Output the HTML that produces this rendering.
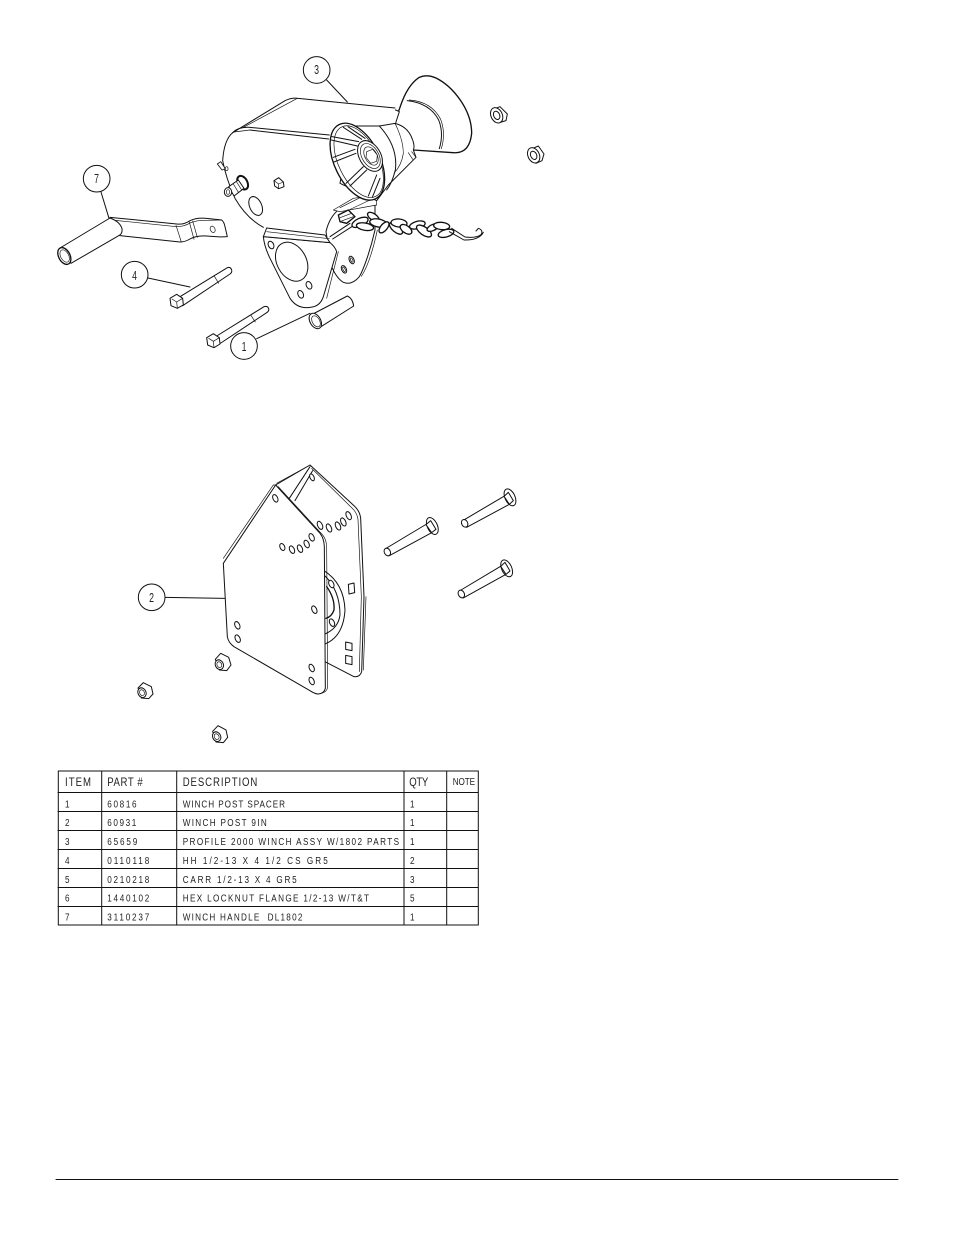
<!DOCTYPE html>
<html><head><meta charset="utf-8"><style>
html,body{margin:0;padding:0;background:#fff}
svg{display:block}
path,line,ellipse,circle,rect,polyline{fill:none;stroke:#111;stroke-linejoin:round;stroke-linecap:round}
.w path,.w ellipse,.w circle{fill:#fff}
.w .o{fill:none}
text{font-family:"Liberation Sans",sans-serif;fill:#222}
.t text{font-size:10.2px}
.t .h{font-size:12px}
.c{font-size:12.5px;text-anchor:middle}
</style></head><body>
<svg width="954" height="1235" viewBox="0 0 954 1235" xmlns="http://www.w3.org/2000/svg">

<!-- handle, bolts, balloons -->
<g transform="translate(40 40) scale(.33333)" class="w">
<path stroke-width="3" d="M210,532 L410,552 Q430,555 450,542 Q470,532 500,535 L545,540 Q552,545 555,560 L562,590 Q545,592 500,588 Q470,586 450,597 Q435,606 420,606 L240,587 Z"/>
<path class="o" stroke-width="2" d="M215,540 L410,560 Q432,560 452,548 Q472,540 500,541 L545,540"/>
<path class="o" stroke-width="2" d="M408,556 L424,606 M448,546 L462,598 M458,543 L472,592"/>
<ellipse stroke-width="2" cx="518" cy="568" rx="7" ry="10" transform="rotate(-25 518 568)"/>
<path stroke-width="3" d="M60,624 L210,534 Q240,545 246,566 Q248,580 238,586 L93,670 Z"/>
<ellipse stroke-width="4" cx="73" cy="648" rx="17" ry="27" transform="rotate(-28 73 648)"/>
<ellipse stroke-width="2" cx="74" cy="648" rx="12" ry="20" transform="rotate(-28 74 648)"/>
<circle stroke-width="3" cx="170" cy="416" r="40"/>
<line stroke-width="3" x1="183" y1="456" x2="207" y2="535"/>
<circle stroke-width="3" cx="284" cy="704" r="40"/>
<line stroke-width="3" x1="324" y1="714" x2="450" y2="741"/>
<path stroke-width="3" d="M420,770 L562,683 Q572,680 575,690 Q577,697 570,702 L428,797 Z"/>
<path class="o" stroke-width="2" d="M522,707 L536,730"/>
<path stroke-width="3" d="M390,775 L410,763 L428,775 L430,795 L412,805 L393,797 Z"/>
<path class="o" stroke-width="2" d="M396,777 L410,786 L412,805 M410,786 L428,775"/>
<path stroke-width="3" d="M530,888 L672,800 Q683,797 686,806 Q688,813 680,818 L538,912 Z"/>
<path class="o" stroke-width="2" d="M632,825 L646,846"/>
<path stroke-width="3" d="M500,893 L520,881 L538,893 L540,912 L522,923 L503,915 Z"/>
<path class="o" stroke-width="2" d="M506,895 L520,904 L522,923 M520,904 L538,893"/>
<circle stroke-width="3" cx="612" cy="918" r="40"/>
</g>

<!-- bell + rear flange -->
<g transform="translate(320 70) scale(.33333)" class="w">
<path stroke-width="4" d="M240,112 Q262,45 298,22 Q320,12 348,24 C400,50 455,120 455,190 C450,240 425,250 400,248 L280,240 L222,160 Z"/>
<path class="o" stroke-width="3" d="M262,92 Q330,100 356,150 Q372,190 358,236"/>
<path class="o" stroke-width="2" d="M268,90 Q335,95 362,148 Q378,190 364,236"/>
<path stroke-width="3" d="M130,165 L200,122 Q215,112 238,125 L225,165 Z"/>
<ellipse stroke-width="3" cx="192" cy="145" rx="5" ry="8" transform="rotate(25 192 145)"/>
</g>

<!-- housing -->
<g transform="translate(210 90) scale(.33333)" class="w">
<path style="stroke:none" d="M68,128 L225,32 Q245,22 265,25 L555,54 L560,250 L400,420 L160,412 Q110,385 75,325 Q45,260 38,210 Q40,150 68,128 Z"/>
<path class="o" stroke-width="3" d="M68,128 Q42,150 38,212 Q48,265 75,325 Q110,385 160,412"/>
<path class="o" stroke-width="3" d="M68,128 L225,32 Q245,22 265,25 L555,54"/>
<path class="o" stroke-width="3" d="M68,128 Q85,110 120,112 L358,135 M120,120 L356,147"/>
<path class="o" stroke-width="2" d="M100,112 L262,25 M72,126 L120,120"/>
<path stroke-width="2.5" d="M22,222 L32,215 L46,236 L36,240 Z"/>
<ellipse stroke-width="2" cx="50" cy="236" rx="4" ry="6"/>
<ellipse stroke-width="6" cx="98" cy="278" rx="14" ry="22" transform="rotate(-30 98 278)"/>
<path stroke-width="3" d="M56,290 L85,270 L102,295 L72,318 Z"/>
<ellipse stroke-width="3" cx="54" cy="306" rx="11" ry="13"/>
<ellipse stroke-width="2" cx="54" cy="306" rx="5" ry="7"/>
<path class="o" stroke-width="2" d="M70,282 L86,308 M80,276 L95,300"/>
<path stroke-width="3" d="M192,272 L206,263 L220,276 L222,290 L206,296 L194,288 Z"/>
<path class="o" stroke-width="2" d="M192,272 L206,282 L206,296 M206,282 L220,276"/>
<ellipse stroke-width="3" cx="137" cy="348" rx="18" ry="30" transform="rotate(-25 137 348)"/>
</g>

<!-- lower right plate, brackets -->
<g transform="translate(320 195) scale(.33333)" class="w">
<path stroke-width="3" d="M18,110 Q28,65 60,40 L165,10 L165,105 C150,170 130,225 118,245 Q95,272 70,262 Q50,250 35,215 Z"/>
<path class="o" stroke-width="2" d="M172,105 C158,170 140,220 124,244"/>
<path stroke-width="2" d="M40,45 L100,10 L170,0 L170,30 L60,50 Z"/>
<path class="o" stroke-width="2" d="M60,38 L120,8 M80,48 L150,15"/>
<ellipse stroke-width="3" cx="72" cy="223" rx="7" ry="12" transform="rotate(-25 72 223)"/>
<ellipse stroke-width="3" cx="95" cy="195" rx="7" ry="12" transform="rotate(-25 95 195)"/>
<ellipse stroke-width="2" cx="72" cy="223" rx="3" ry="7" transform="rotate(-25 72 223)"/>
<ellipse stroke-width="2" cx="95" cy="195" rx="3" ry="7" transform="rotate(-25 95 195)"/>
</g>

<!-- lower triangular plate + spacer + nuts -->
<g transform="translate(210 50) scale(.33333)" class="w">
<path stroke-width="3" d="M160,560 Q163,590 180,625 L240,745 Q262,778 300,772 Q330,770 340,740 L380,605 Q375,590 360,578 Z"/>
<path stroke-width="3" d="M170,534 L345,555 L360,578 L160,560 Z"/>
<path class="o" stroke-width="2" d="M170,545 L358,566"/>
<path class="o" stroke-width="2" d="M350,745 L385,605"/>
<ellipse stroke-width="3" cx="245" cy="635" rx="44" ry="62" transform="rotate(-28 245 635)"/>
<ellipse stroke-width="3" cx="183" cy="585" rx="8" ry="12" transform="rotate(-25 183 585)"/>
<ellipse stroke-width="3" cx="297" cy="706" rx="8" ry="12" transform="rotate(-25 297 706)"/>
<ellipse stroke-width="3" cx="272" cy="733" rx="8" ry="12" transform="rotate(-25 272 733)"/>
<path stroke-width="3" d="M303,795 L412,738 Q428,745 431,768 L333,830 Z"/>
<ellipse stroke-width="3" cx="316" cy="813" rx="16" ry="25" transform="rotate(-30 316 813)"/>
<ellipse stroke-width="2" cx="318" cy="814" rx="11" ry="18" transform="rotate(-30 318 814)"/>
<path stroke-width="3" d="M848,178 L870,170 L892,192 L888,212 L868,218 Z"/>
<ellipse stroke-width="3" cx="860" cy="196" rx="17" ry="24" transform="rotate(-25 860 196)"/>
<ellipse stroke-width="3" cx="860" cy="196" rx="9" ry="13" transform="rotate(-25 860 196)"/>
<path stroke-width="3" d="M962,298 L985,288 L1002,312 L996,332 L978,340 Z"/>
<ellipse stroke-width="3" cx="971" cy="316" rx="17" ry="24" transform="rotate(-25 971 316)"/>
<ellipse stroke-width="3" cx="971" cy="316" rx="9" ry="13" transform="rotate(-25 971 316)"/>
<line stroke-width="3" x1="350" y1="90" x2="412" y2="156"/>
<circle stroke-width="3" cx="320" cy="60" r="40"/>
<line stroke-width="3" x1="140" y1="866" x2="300" y2="790"/>
</g>

<!-- chain -->
<g transform="translate(320 195) scale(.33333)" class="w">
<path class="o" stroke-width="3" d="M30,125 L90,85 M38,132 L100,92"/>
<path stroke-width="4" d="M55,60 L85,45 L105,65 L80,85 L60,80 Z"/>
<path class="o" stroke-width="2" d="M60,68 L95,55 M65,78 L100,65"/>
<ellipse stroke-width="4" cx="160" cy="66" rx="20" ry="10" transform="rotate(35 160 66)"/>
<ellipse stroke-width="4" cx="120" cy="82" rx="26" ry="12" transform="rotate(-25 120 82)"/>
<ellipse stroke-width="4" cx="135" cy="95" rx="26" ry="11" transform="rotate(10 135 95)"/>
<ellipse stroke-width="4" cx="175" cy="84" rx="26" ry="12" transform="rotate(10 175 84)"/>
<ellipse stroke-width="4" cx="192" cy="97" rx="20" ry="10" transform="rotate(-50 192 97)"/>
<ellipse stroke-width="4" cx="228" cy="100" rx="24" ry="11" transform="rotate(40 228 100)"/>
<ellipse stroke-width="4" cx="237" cy="84" rx="24" ry="12" transform="rotate(5 237 84)"/>
<ellipse stroke-width="4" cx="258" cy="103" rx="20" ry="11" transform="rotate(35 258 103)"/>
<ellipse stroke-width="4" cx="292" cy="90" rx="24" ry="11" transform="rotate(-15 292 90)"/>
<ellipse stroke-width="4" cx="312" cy="108" rx="26" ry="12" transform="rotate(35 312 108)"/>
<ellipse stroke-width="4" cx="338" cy="98" rx="18" ry="9" transform="rotate(-25 338 98)"/>
<ellipse stroke-width="4" cx="365" cy="93" rx="24" ry="11" transform="rotate(5 365 93)"/>
<ellipse stroke-width="4" cx="378" cy="115" rx="24" ry="11" transform="rotate(-15 378 115)"/>
<path class="o" stroke-width="3" d="M395,100 L435,126 Q470,130 484,118 Q490,105 475,100 L468,108 M388,110 L432,135 Q478,136 490,112"/>
</g>

<!-- spool -->
<g transform="translate(320 70) scale(.33333)" class="w">
<path stroke-width="3" d="M90,168 L178,168 L225,160 Q265,170 278,210 Q285,230 280,240 L288,262 L205,345 L170,392 L60,340 Z"/>
<path class="o" stroke-width="3" d="M178,168 Q235,230 226,300 Q216,340 200,360"/>
<path class="o" stroke-width="2" d="M225,160 Q250,210 250,250 Q245,285 222,310 M265,248 L278,268 M275,245 L288,262"/>
<ellipse stroke-width="4" cx="112" cy="275" rx="124" ry="68" transform="rotate(64 112 275)"/>
<ellipse class="o" stroke-width="2" cx="116" cy="275" rx="116" ry="60" transform="rotate(64 116 275)"/>
<path class="o" stroke-width="3" d="M36,200 L116,215 M34,210 L112,228 M40,262 L105,238 M42,276 L108,250 M78,340 L130,290 M90,348 L140,300 M145,378 L170,315 M157,382 L180,325 M70,172 L125,208 M84,170 L135,205"/>
<ellipse stroke-width="3" cx="150" cy="258" rx="32" ry="50" transform="rotate(-30 150 258)"/>
<ellipse class="o" stroke-width="2" cx="151" cy="258" rx="25" ry="41" transform="rotate(-30 151 258)"/>
<ellipse class="o" stroke-width="2" cx="153" cy="258" rx="18" ry="30" transform="rotate(-30 153 258)"/>
<path class="o" stroke-width="2" d="M140,245 L158,238 L172,255 L170,274 L152,280 L138,262 Z"/>
</g>

<!-- post -->
<g transform="translate(130 450) scale(.33333)" class="w">
<path stroke-width="3" d="M437,105 L540,45 L675,170 Q690,185 692,205 L702,440 L695,665 Q690,682 672,680 L585,635 L570,250 Z"/>
<path class="o" stroke-width="2" d="M545,55 L670,178 Q682,192 684,208 L694,440 L688,665 M708,440 L700,660"/>
<path class="o" stroke-width="3" d="M478,145 L540,50 M495,152 L548,62"/>
<path class="o" stroke-width="2" d="M440,100 L535,48"/>
<ellipse stroke-width="3" cx="546" cy="82" rx="6" ry="11" transform="rotate(-25 546 82)"/>
<ellipse stroke-width="3" cx="570" cy="226" rx="7" ry="13" transform="rotate(-25 570 226)"/>
<ellipse stroke-width="3" cx="597" cy="234" rx="7" ry="13" transform="rotate(-25 597 234)"/>
<ellipse stroke-width="3" cx="624" cy="228" rx="7" ry="13" transform="rotate(-25 624 228)"/>
<ellipse stroke-width="3" cx="640" cy="216" rx="7" ry="13" transform="rotate(-25 640 216)"/>
<ellipse stroke-width="3" cx="656" cy="197" rx="7" ry="13" transform="rotate(-25 656 197)"/>
<path stroke-width="3" d="M655,403 L672,399 L674,428 L657,432 Z"/>
<path stroke-width="3" d="M647,576 L666,580 L666,602 L647,598 Z"/>
<path stroke-width="3" d="M647,616 L666,620 L666,644 L647,640 Z"/>
<path class="o" stroke-width="3" d="M582,362 Q642,400 645,480 Q640,560 585,582"/>
<path class="o" stroke-width="3" d="M582,375 Q630,420 630,495 Q625,535 585,552"/>
<path class="o" stroke-width="4" d="M590,410 Q615,445 612,480 Q605,500 588,505"/>
<ellipse stroke-width="3" cx="604" cy="402" rx="7" ry="12" transform="rotate(-25 604 402)"/>
<ellipse stroke-width="3" cx="606" cy="518" rx="7" ry="12" transform="rotate(-25 606 518)"/>
<path stroke-width="3" d="M280,340 L437,105 L570,250 Q582,265 583,290 L586,715 Q582,730 565,732 Q555,732 540,722 L312,590 Q295,578 292,560 Z"/>
<path class="o" stroke-width="2" d="M280,325 L430,105 L437,105 M445,110 L578,255 Q590,270 590,292 L593,712 Q590,726 575,730"/>
<ellipse stroke-width="3" cx="436" cy="145" rx="7" ry="12" transform="rotate(-25 436 145)"/>
<ellipse stroke-width="3" cx="457" cy="291" rx="7" ry="11" transform="rotate(-25 457 291)"/>
<ellipse stroke-width="3" cx="486" cy="299" rx="7" ry="12" transform="rotate(-25 486 299)"/>
<ellipse stroke-width="3" cx="510" cy="296" rx="7" ry="12" transform="rotate(-25 510 296)"/>
<ellipse stroke-width="3" cx="530" cy="282" rx="7" ry="12" transform="rotate(-25 530 282)"/>
<ellipse stroke-width="3" cx="545" cy="262" rx="7" ry="12" transform="rotate(-25 545 262)"/>
<ellipse stroke-width="3" cx="553" cy="479" rx="7" ry="12" transform="rotate(-25 553 479)"/>
<ellipse stroke-width="3" cx="322" cy="526" rx="7" ry="12" transform="rotate(-25 322 526)"/>
<ellipse stroke-width="3" cx="323" cy="566" rx="7" ry="12" transform="rotate(-25 323 566)"/>
<ellipse stroke-width="3" cx="545" cy="654" rx="7" ry="12" transform="rotate(-25 545 654)"/>
<ellipse stroke-width="3" cx="545" cy="693" rx="7" ry="12" transform="rotate(-25 545 693)"/>
<path stroke-width="3" d="M765,297 L890,222 L905,248 L778,317 Z"/>
<ellipse stroke-width="3" cx="772" cy="306" rx="9" ry="12" transform="rotate(-28 772 306)"/>
<ellipse stroke-width="3" cx="907" cy="228" rx="15" ry="27" transform="rotate(-25 907 228)"/>
<path stroke-width="3" d="M888,224 L902,212 L918,238 L905,248 Z"/>
<path stroke-width="3" d="M998,212 L1125,137 L1138,163 L1010,232 Z"/>
<ellipse stroke-width="3" cx="1004" cy="220" rx="9" ry="12" transform="rotate(-28 1004 220)"/>
<ellipse stroke-width="3" cx="1140" cy="142" rx="15" ry="27" transform="rotate(-25 1140 142)"/>
<path stroke-width="3" d="M1122,139 L1135,127 L1150,152 L1138,163 Z"/>
<path stroke-width="3" d="M988,423 L1115,347 L1128,373 L1000,444 Z"/>
<ellipse stroke-width="3" cx="994" cy="432" rx="9" ry="12" transform="rotate(-28 994 432)"/>
<ellipse stroke-width="3" cx="1130" cy="355" rx="15" ry="27" transform="rotate(-25 1130 355)"/>
<path stroke-width="3" d="M1112,349 L1125,337 L1140,363 L1128,373 Z"/>
<circle stroke-width="3" cx="65" cy="442" r="40"/>
<line stroke-width="3" x1="105" y1="442" x2="285" y2="445"/>
<path stroke-width="3" d="M256,628 L272,610 L296,622 L303,645 L290,662 L268,660 Z"/>
<ellipse stroke-width="3" cx="268" cy="644" rx="12" ry="15" transform="rotate(-25 268 644)"/>
<ellipse stroke-width="2" cx="268" cy="644" rx="7" ry="9" transform="rotate(-25 268 644)"/>
<path stroke-width="3" d="M24,714 L40,698 L64,710 L69,732 L56,746 L34,744 Z"/>
<ellipse stroke-width="3" cx="36" cy="728" rx="12" ry="15" transform="rotate(-25 36 728)"/>
<ellipse stroke-width="2" cx="36" cy="728" rx="7" ry="9" transform="rotate(-25 36 728)"/>
<path stroke-width="3" d="M248,844 L264,827 L288,840 L293,862 L280,878 L258,876 Z"/>
<ellipse stroke-width="3" cx="260" cy="860" rx="12" ry="15" transform="rotate(-25 260 860)"/>
<ellipse stroke-width="2" cx="260" cy="860" rx="7" ry="9" transform="rotate(-25 260 860)"/>
</g>

<!-- balloon labels -->
<text class="c" transform="translate(96.5 183) scale(.7 1)">7</text>
<text class="c" transform="translate(134.5 280) scale(.7 1)">4</text>
<text class="c" transform="translate(244 351) scale(.7 1)">1</text>
<text class="c" transform="translate(316.5 74) scale(.7 1)">3</text>
<text class="c" transform="translate(151.5 602) scale(.7 1)">2</text>

<!-- table -->
<rect x="58.3" y="771" width="420" height="154" stroke-width="1"/>
<line x1="101.7" y1="771" x2="101.7" y2="925" stroke-width="1"/>
<line x1="176.7" y1="771" x2="176.7" y2="925" stroke-width="1"/>
<line x1="404" y1="771" x2="404" y2="925" stroke-width="1"/>
<line x1="446.7" y1="771" x2="446.7" y2="925" stroke-width="1"/>
<line x1="58" y1="792.5" x2="478" y2="792.5" stroke-width="1"/>
<line x1="58" y1="811.5" x2="478" y2="811.5" stroke-width="1"/>
<line x1="58" y1="830.5" x2="478" y2="830.5" stroke-width="1"/>
<line x1="58" y1="849.5" x2="478" y2="849.5" stroke-width="1"/>
<line x1="58" y1="868.5" x2="478" y2="868.5" stroke-width="1"/>
<line x1="58" y1="887.5" x2="478" y2="887.5" stroke-width="1"/>
<line x1="58" y1="906.5" x2="478" y2="906.5" stroke-width="1"/>
<g class="t" transform="scale(.8 1)">
<text class="h" x="81.3" y="786" textLength="32.5" lengthAdjust="spacing">ITEM</text>
<text class="h" x="134.1" y="786" textLength="44.3" lengthAdjust="spacing">PART #</text>
<text class="h" x="228.4" y="786" textLength="93.3" lengthAdjust="spacing">DESCRIPTION</text>
<text class="h" x="511.6" y="786" textLength="23.8" lengthAdjust="spacing">QTY</text>
<text x="565.9" y="785" textLength="27.9" lengthAdjust="spacing">NOTE</text>

<text x="81.3" y="807.3">1</text><text x="134.1" y="807.3" textLength="36.6" lengthAdjust="spacing">60816</text><text x="228.4" y="807.3" textLength="127.9" lengthAdjust="spacing">WINCH POST SPACER</text><text x="512.5" y="807.3">1</text>
<text x="81.3" y="826">2</text><text x="134.1" y="826" textLength="36.3" lengthAdjust="spacing">60931</text><text x="228.4" y="826" textLength="105" lengthAdjust="spacing">WINCH POST 9IN</text><text x="512.5" y="826">1</text>
<text x="81.3" y="845">3</text><text x="134.1" y="845" textLength="37.5" lengthAdjust="spacing">65659</text><text x="228.4" y="845" textLength="270.4" lengthAdjust="spacing">PROFILE 2000 WINCH ASSY W/1802 PARTS</text><text x="512.5" y="845">1</text>
<text x="81.3" y="864">4</text><text x="134.1" y="864" textLength="52.5" lengthAdjust="spacing">0110118</text><text x="228.4" y="864" textLength="181.3" lengthAdjust="spacing">HH 1/2-13 X 4 1/2 CS GR5</text><text x="512.5" y="864">2</text>
<text x="81.3" y="883">5</text><text x="134.1" y="883" textLength="52.5" lengthAdjust="spacing">0210218</text><text x="228.4" y="883" textLength="142.5" lengthAdjust="spacing">CARR 1/2-13 X 4 GR5</text><text x="512.5" y="883">3</text>
<text x="81.3" y="901.7">6</text><text x="134.1" y="901.7" textLength="52.5" lengthAdjust="spacing">1440102</text><text x="228.4" y="901.7" textLength="232.9" lengthAdjust="spacing">HEX LOCKNUT FLANGE 1/2-13 W/T&amp;T</text><text x="512.5" y="901.7">5</text>
<text x="81.3" y="920.7">7</text><text x="134.1" y="920.7" textLength="52.5" lengthAdjust="spacing">3110237</text><text x="228.4" y="920.7" textLength="149.6" lengthAdjust="spacing" style="white-space:pre">WINCH HANDLE  DL1802</text><text x="512.5" y="920.7">1</text>
</g>

<line x1="56" y1="1179.5" x2="898" y2="1179.5" stroke-width="1"/>
</svg>
</body></html>
